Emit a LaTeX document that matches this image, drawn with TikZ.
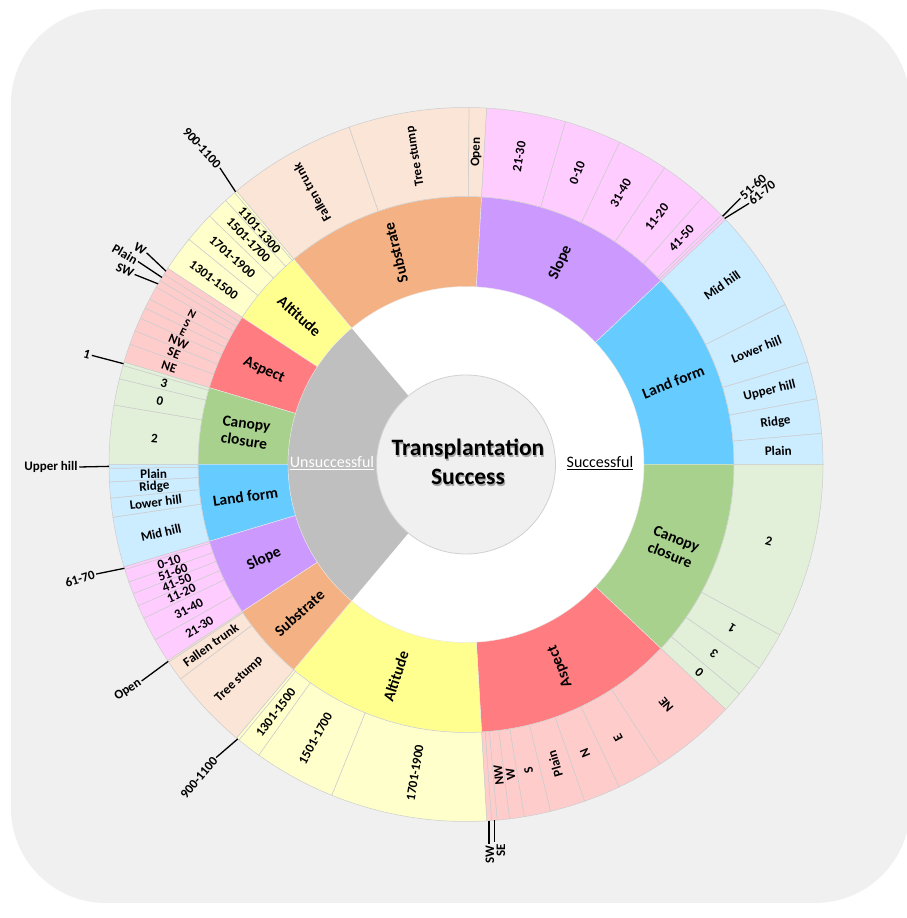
\documentclass[tikz,border=0pt]{standalone}
\usepackage{fontspec}
\setmainfont{Carlito}
\definecolor{bgc}{HTML}{F0F0F0}
\definecolor{greyc}{HTML}{BFBFBF}
\definecolor{ctrc}{HTML}{F0F0F0}
\definecolor{subM}{HTML}{F4B183}\definecolor{subO}{HTML}{FBE5D6}
\definecolor{sloM}{HTML}{CC99FF}\definecolor{sloO}{HTML}{FFCCFF}
\definecolor{lanM}{HTML}{66CCFF}\definecolor{lanO}{HTML}{CCECFF}
\definecolor{canM}{HTML}{A9D18E}\definecolor{canO}{HTML}{E2F0D9}
\definecolor{aspM}{HTML}{FF7C80}\definecolor{aspO}{HTML}{FFCCCC}
\definecolor{altM}{HTML}{FFFF8F}\definecolor{altO}{HTML}{FFFFCC}
\newcommand{\mysec}[5]{\path[#5] (#1:#3) arc[start angle=#1,end angle=#2,radius=#3pt] -- (#2:#4) arc[start angle=#2,end angle=#1,radius=#4pt] -- cycle;}
\tikzset{
 oseg/.style={draw=black!20, line width=0.5pt},
 mseg/.style={draw=black!8, line width=0.4pt},
 olab/.style={font=\bfseries\fontsize{13}{14}\selectfont, inner sep=0pt, text=black},
 slab/.style={font=\bfseries\fontsize{11.5}{12}\selectfont, inner sep=0pt, text=black},
 mlab/.style={font=\bfseries\fontsize{15.5}{17.5}\selectfont, inner sep=0pt, align=center, text=black},
 leadlab/.style={font=\bfseries\fontsize{13}{14}\selectfont, inner sep=1.5pt, text=black},
 lead/.style={draw=black, line width=1.3pt},
}
\begin{document}
\begin{tikzpicture}[x=1pt,y=1pt]
\useasboundingbox (0,0) rectangle (906,918);
\fill[white] (0,0) rectangle (906,918);
\fill[bgc, rounded corners=95pt] (11,15) rectangle (910,909);
\begin{scope}[shift={(466,453.5)}]
 \fill[white] (0,0) circle[radius=178pt];
 \mysec{130}{230}{89.5}{178}{fill=greyc}
 % ---- middle ring: successful
 \mysec{130}{86.667}{178}{268}{mseg,fill=subM}
 \mysec{86.667}{43.333}{178}{268}{mseg,fill=sloM}
 \mysec{43.333}{0}{178}{268}{mseg,fill=lanM}
 \mysec{0}{-43.333}{178}{268}{mseg,fill=canM}
 \mysec{-43.333}{-86.667}{178}{268}{mseg,fill=aspM}
 \mysec{-86.667}{-130}{178}{268}{mseg,fill=altM}
 % ---- middle ring: unsuccessful
 \mysec{146.667}{130}{178}{268}{mseg,fill=altM}
 \mysec{163.333}{146.667}{178}{268}{mseg,fill=aspM}
 \mysec{180}{163.333}{178}{268}{mseg,fill=canM}
 \mysec{196.667}{180}{178}{268}{mseg,fill=lanM}
 \mysec{213.333}{196.667}{178}{268}{mseg,fill=sloM}
 \mysec{230}{213.333}{178}{268}{mseg,fill=subM}
 % ---- outer ring: successful
 \foreach \a/\b in {130/109.1,109.1/89.5,89.5/86.667} {\mysec{\a}{\b}{268}{357}{oseg,fill=subO}}
 \foreach \a/\b in {86.667/73.8,73.8/64.5,64.5/56.2,56.2/48.5,48.5/44.3,44.3/43.8,43.8/43.333} {\mysec{\a}{\b}{268}{357}{oseg,fill=sloO}}
 \foreach \a/\b in {43.333/26.6,26.6/16.7,16.7/10.6,10.6/5,5/0} {\mysec{\a}{\b}{268}{357}{oseg,fill=lanO}}
 \foreach \a/\b in {0/-28.5,-28.5/-34.8,-34.8/-40,-40/-43.333} {\mysec{\a}{\b}{268}{357}{oseg,fill=canO}}
 \foreach \a/\b in {-43.333/-57.1,-57.1/-64.6,-64.6/-70.6,-70.6/-76.3,-76.3/-80.6,-80.6/-83,-83/-85,-85/-85.9,-85.9/-86.667} {\mysec{\a}{\b}{268}{357}{oseg,fill=aspO}}
 \foreach \a/\b in {-86.667/-112.1,-112.1/-125.5,-125.5/-129.5,-129.5/-130} {\mysec{\a}{\b}{268}{357}{oseg,fill=altO}}
 % ---- outer ring: unsuccessful
 \foreach \a/\b in {146.667/140.9,140.9/135.9,135.9/132.3,132.3/130.4,130.4/130} {\mysec{\a}{\b}{268}{357}{oseg,fill=altO}}
 \foreach \a/\b in {163.333/160.3,160.3/158,158/155.8,155.8/154,154/152.4,152.4/150.2,150.2/149,149/147.8,147.8/146.667} {\mysec{\a}{\b}{268}{357}{oseg,fill=aspO}}
 \foreach \a/\b in {180/170.4,170.4/166.1,166.1/163.9,163.9/163.333} {\mysec{\a}{\b}{268}{357}{oseg,fill=canO}}
 \foreach \a/\b in {196.667/188.5,188.5/185.4,185.4/182.8,182.8/180.6,180.6/180} {\mysec{\a}{\b}{268}{357}{oseg,fill=lanO}}
 \foreach \a/\b in {213.333/209.4,209.4/205.5,205.5/203.3,203.3/201.2,201.2/199.2,199.2/197.1,197.1/196.667} {\mysec{\a}{\b}{268}{357}{oseg,fill=sloO}}
 \foreach \a/\b in {230/216.9,216.9/213.6,213.6/213.333} {\mysec{\a}{\b}{268}{357}{oseg,fill=subO}}
 % ---- middle labels
 \node[mlab,rotate=104] (mSub) at (108.33:223) {Substrate};
 \node[mlab,rotate=65] (mSlo) at (65:223) {Slope};
 \node[mlab,rotate=21.67] (mLan) at (21.67:223) {Land form};
 \node[mlab,rotate=-21.67] (mCan) at (-21.67:223) {Canopy\\closure};
 \node[mlab,rotate=112] (mAsp) at (-65:223) {Aspect};
 \node[mlab,rotate=71.67] (mAlt) at (-108.33:223) {Altitude};
 \node[mlab,rotate=-41.67] (uAlt) at (138.33:223) {Altitude};
 \node[mlab,rotate=-25] (uAsp) at (155:223) {Aspect};
 \node[mlab,rotate=-8.33] (uCan) at (171.67:223) {Canopy\\closure};
 \node[mlab,rotate=8.33] (uLan) at (188.33:223) {Land form};
 \node[mlab,rotate=25] (uSlo) at (205:223) {Slope};
 \node[mlab,rotate=41.67] (uSub) at (221.67:223) {Substrate};
 % ---- outer labels (successful)
 \foreach \n/\a/\r/\t in {sFT/119.55/119.55/Fallen trunk, sTS/99.3/99.3/Tree stump, sOp/88.1/88.1/Open,
   s2130/80.2/80.2/21-30, s010/69.15/69.15/0-10, s3140/60.35/60.35/31-40, s1120/52.35/52.35/11-20, s4150/46.4/46.4/41-50,
   sMid/34.97/34.97/Mid hill, sLow/21.65/21.65/Lower hill, sUpp/13.65/13.65/Upper hill, sRid/7.8/7.8/Ridge, sPla/2.5/2.5/Plain,
   sC2/-14.25/-14.25/2, sC1/-31.65/148.35/1, sC3/-37.4/142.6/3, sC0/-41.67/138.33/0,
   sNE/-50.2/129.8/NE, sE/-60.85/119.15/E, sN/-67.6/112.4/N, sPl/-73.45/106.55/Plain, sS/-78.45/101.55/S, sW/-81.8/98.2/W, sNW/-84/96/NW,
   sA1/-99.4/80.6/1701-1900, sA2/-118.8/61.2/1501-1700, sA3/-127.5/52.5/1301-1500}
   {\node[olab,rotate=\r] (\n) at (\a:312.5) {\t};}
 % ---- outer labels (unsuccessful)
 \foreach \n/\a/\r/\t in {uA1/143.8/-36.2/1301-1500, uA2/138.4/-41.6/1701-1900, uA3/134.1/-45.9/1501-1700, uA4/131.35/-48.65/1101-1300,
   uNE/161.8/-18.2/NE, uSE/159.15/-20.85/SE, uNW/156.9/-23.1/NW,
   uC2/175.2/-4.8/2, uC0/168.25/-11.75/0, uC3/165/-15/3,
   uMid/192.6/12.6/Mid hill, uLow/186.95/6.95/Lower hill, uRid/184.1/4.1/Ridge, uPla/181.7/1.7/Plain,
   u2130/211.4/31.4/21-30, u3140/207.45/27.45/31-40, u1120/204.4/24.4/11-20, u4150/202.25/22.25/41-50, u5160/200.2/20.2/51-60, u010/198.15/18.15/0-10,
   uTS/223.45/43.45/Tree stump, uFT/215.25/35.25/Fallen trunk}
   {\node[olab,rotate=\r] (\n) at (\a:312.5) {\t};}
 \foreach \n/\a/\r/\t in {uE/154.9/-25.1/E, uS/153.2/-26.8/S, uN/151.3/-28.7/N}
   {\node[slab,rotate=\r] (\n) at (\a:312.5) {\t};}
 % ---- ring points for leader lines
 \coordinate (r900t) at (130.2:357);
 \coordinate (rW) at (147.2:357);
 \coordinate (rPl) at (148.4:357);
 \coordinate (rSW) at (149.6:357);
 \coordinate (rOne) at (163.6:357);
 \coordinate (rUp) at (180.3:357);
 \coordinate (r6170l) at (196.9:357);
 \coordinate (rOpen) at (213.47:357);
 \coordinate (r900b) at (-129.75:357);
 \coordinate (rSWb) at (-86.3:357);
 \coordinate (rSEb) at (-85.45:357);
 \coordinate (r5160) at (44.05:357);
 \coordinate (r6170r) at (43.57:357);
\end{scope}
% ---- leader labels
\node[leadlab,rotate=-48] (l900t) at (202,770) {900-1100};
\node[leadlab,rotate=-30] (lW) at (140,669) {W};
\node[leadlab,rotate=-30] (lPl) at (125,664) {Plain};
\node[leadlab,rotate=-25] (lSW) at (125,648) {SW};
\node[leadlab,rotate=-16] (lOne) at (87,564) {1};
\node[leadlab] (lUp) at (51,451) {Upper hill};
\node[leadlab,rotate=17] (l6170l) at (80,339) {61-70};
\node[leadlab,rotate=33.5] (lOpen) at (128,228) {Open};
\node[leadlab,rotate=50] (l900b) at (199,140) {900-1100};
\node[leadlab,rotate=90] (lSWb) at (490,63) {SW};
\node[leadlab,rotate=90] (lSEb) at (501,68) {SE};
\node[leadlab,rotate=42] (l5160) at (753,731) {51-60};
\node[leadlab,rotate=40] (l6170r) at (762,725.5) {61-70};
\draw[lead] (l900t.east) -- (r900t);
\draw[lead] (lW.east) -- (rW);
\draw[lead] (lPl.east) -- (rPl);
\draw[lead] (lSW.east) -- (rSW);
\draw[lead] (lOne.east) -- (rOne);
\draw[lead] (lUp.east) -- (rUp);
\draw[lead] (l6170l.east) -- (r6170l);
\draw[lead] (lOpen.east) -- (rOpen);
\draw[lead] (l900b.east) -- (r900b);
\draw[lead] (rSWb) -- (rSWb |- lSWb.east);
\draw[lead] (rSEb) -- (rSEb |- lSEb.east);
\draw[lead] (r5160) -- (l5160.west);
\draw[lead] (r6170r) -- (l6170r.west);
% ---- centre
\node[circle, minimum size=179pt, inner sep=0pt, fill=ctrc, draw=black!18, line width=0.8pt] (ctr) at (466,453.5) {};
\node[font=\bfseries\fontsize{23.5}{29}\selectfont, align=center, text=black!35] (titleshadow) at (469,454.5) {Transplantation\\Success};
\node[font=\bfseries\fontsize{23.5}{29}\selectfont, align=center, text=black] (title) at (468,456) {Transplantation\\Success};
\node[font=\fontsize{16}{18}\selectfont, text=white] (unsucc) at (332,455) {\underline{Unsuccessful}};
\node[font=\fontsize{16}{18}\selectfont, text=black] (succ) at (600,455) {\underline{Successful}};
\end{tikzpicture}
\end{document}
